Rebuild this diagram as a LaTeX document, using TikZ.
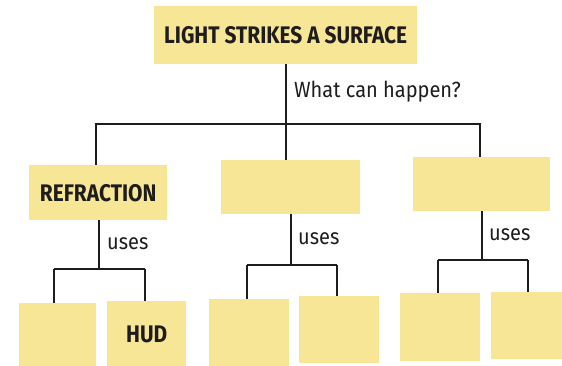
\documentclass[tikz,border=0pt]{standalone}
\usepackage{fontspec}
\setmainfont{Fira Sans}
\newfontfamily\headfont{Fira Sans}[FakeStretch=0.87]
\newfontfamily\notefont{Fira Sans}[FakeStretch=0.91]
\definecolor{boxfill}{RGB}{247,230,150}
\definecolor{ink}{RGB}{30,28,28}

\begin{document}
\begin{tikzpicture}[x=1pt,y=-1pt,
  box/.style={fill=boxfill,draw=none,inner sep=0pt,anchor=north west,
    font=\headfont\bfseries\fontsize{24}{24}\selectfont,text=ink},
  link/.style={draw=ink,line width=1.7pt},
  note/.style={font=\notefont\fontsize{22}{22}\selectfont,text=ink,inner sep=0pt,anchor=base west}]
\clip (0,0) rectangle (562,365);
\fill[white] (0,0) rectangle (562,365);

% top box
\node[box,minimum width=263pt,minimum height=58pt] (top) at (154,6) {LIGHT STRIKES A SURFACE};
\node[note] (q) at (294,97) {What can happen?};

% second level
\node[box,minimum width=138pt,minimum height=55pt] (refr) at (29,165) {REFRACTION};
\node[box,minimum width=139pt,minimum height=54pt] (mid) at (221,160) {};
\node[box,minimum width=137pt,minimum height=54pt] (right) at (413,157) {};

% third level
\node[box,minimum width=77pt,minimum height=67pt] (b1) at (19,303) {};
\node[box,minimum width=79pt,minimum height=67pt] (b2) at (107,301) {HUD};
\node[box,minimum width=80pt,minimum height=67pt] (b3) at (209,299) {};
\node[box,minimum width=80pt,minimum height=67pt] (b4) at (299,296) {};
\node[box,minimum width=80pt,minimum height=68pt] (b5) at (400,293) {};
\node[box,minimum width=71pt,minimum height=67pt] (b6) at (491,292) {};

% tree from the top box
\coordinate (j0) at (286,124);
\coordinate (jl) at (96,124);
\coordinate (jr) at (480,124);
\draw[link] (top.south -| j0) -- (j0);
\draw[link] (jl |- refr.north) -- (jl) -- (jr) -- (jr |- right.north);
\draw[link] (j0) -- (j0 |- mid.north);

% "uses" branches
\coordinate (u1) at (99,269);
\draw[link] (u1 |- refr.south) -- (u1);
\draw[link] (54,269) coordinate (u1a) -- (145,269) coordinate (u1b);
\draw[link] (u1a) -- (u1a |- b1.north);
\draw[link] (u1b) -- (u1b |- b2.north);
\node[note] (n1) at (107,249) {uses};

\coordinate (u2) at (291,265);
\draw[link] (u2 |- mid.south) -- (u2);
\draw[link] (247,265) coordinate (u2a) -- (337,265) coordinate (u2b);
\draw[link] (u2a) -- (u2a |- b3.north);
\draw[link] (u2b) -- (u2b |- b4.north);
\node[note] (n2) at (298,244) {uses};

\coordinate (u3) at (482,260);
\draw[link] (u3 |- right.south) -- (u3);
\draw[link] (438,260) coordinate (u3a) -- (528,260) coordinate (u3b);
\draw[link] (u3a) -- (u3a |- b5.north);
\draw[link] (u3b) -- (u3b |- b6.north);
\node[note] (n3) at (489,240) {uses};
\end{tikzpicture}
\end{document}
